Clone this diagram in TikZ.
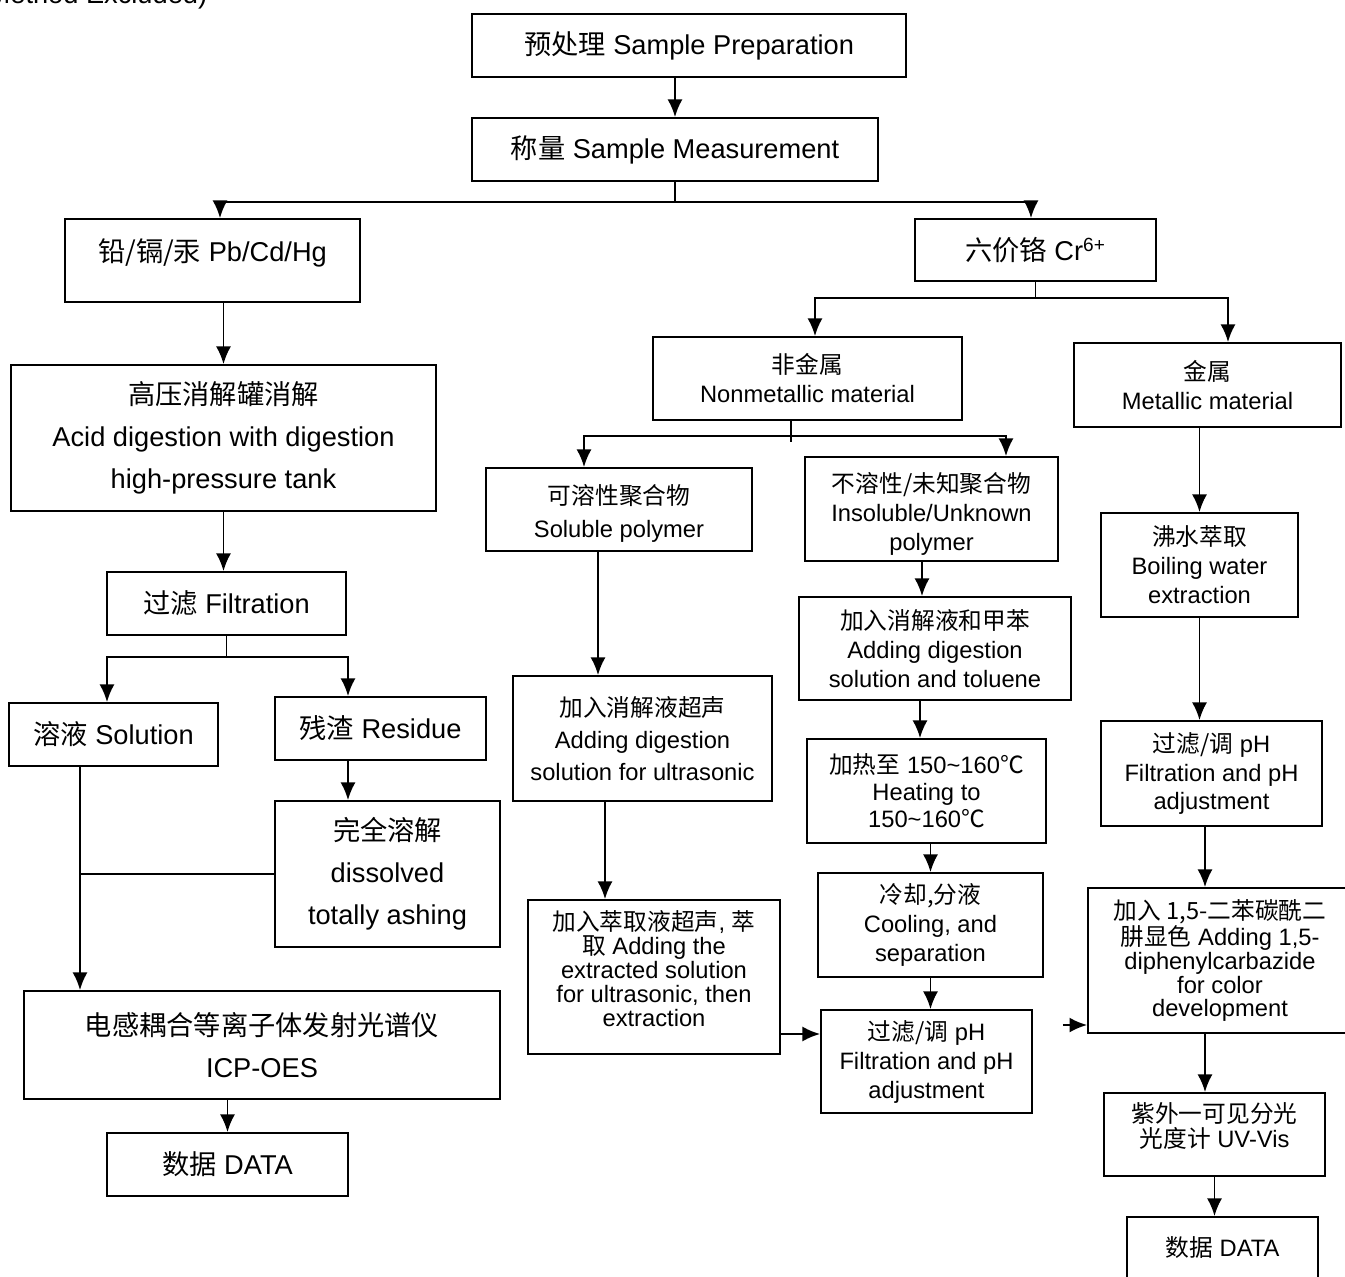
\documentclass[tikz,border=0pt]{standalone}
\usepackage{fontspec}
\setmainfont{Liberation Sans}
\newfontfamily\zhfont{Noto Sans CJK SC}
\newcommand{\zh}[1]{{\zhfont #1}}
\usetikzlibrary{arrows.meta}

\begin{document}
\begin{tikzpicture}[x=0.02cm, y=-0.02cm, >={Latex[length=10pt,width=8.5pt]}, line width=1.1pt,
	box/.style={draw, line width=1.1pt, align=center, inner sep=0pt},
	bigbox/.style={box, font=\fontsize{15.5}{23.8}\selectfont},
	smallbox/.style={box, font=\fontsize{13.5}{16.5}\selectfont}]
	\useasboundingbox (0,0) rectangle (1345,1277);
	\node [anchor=base east, font=\fontsize{15.5}{18}\selectfont] (hdr) at (214,4) {Method Excluded)};
	% left column: Pb/Cd/Hg
	\node [bigbox, minimum width=8.68cm, minimum height=1.26cm] (prep) at (689,45.5) {\zh{预处理} Sample Preparation};
	\node [bigbox, minimum width=8.12cm, minimum height=1.26cm] (meas) at (675,149.5) {\zh{称量} Sample Measurement};
	\node [bigbox, minimum width=5.9cm, minimum height=1.66cm, text depth=12pt] (pbcd) at (212.5,260.5) {\zh{铅/镉/汞} Pb/Cd/Hg};
	\node [bigbox, minimum width=8.5cm, minimum height=2.92cm] (acid) at (223.5,438) {\zh{高压消解罐消解}\\ Acid digestion with digestion\\ high-pressure tank};
	\node [bigbox, minimum width=4.78cm, minimum height=1.26cm] (filt) at (226.5,603.5) {\zh{过滤} Filtration};
	\node [bigbox, minimum width=4.18cm, minimum height=1.26cm] (sol) at (113.5,734.5) {\zh{溶液} Solution};
	\node [bigbox, minimum width=4.22cm, minimum height=1.26cm] (res) at (380.5,728.5) {\zh{残渣} Residue};
	\node [bigbox, minimum width=4.5cm, minimum height=2.92cm] (diss) at (387.5,874) {\zh{完全溶解}\\ dissolved\\ totally ashing};
	\node [bigbox, minimum width=9.52cm, minimum height=2.16cm] (icp) at (262,1045) {\zh{电感耦合等离子体发射光谱仪}\\ ICP-OES};
	\node [bigbox, minimum width=4.82cm, minimum height=1.26cm] (data1) at (227.5,1164.5) {\zh{数据} DATA};
	% right part: Cr(VI)
	\node [bigbox, minimum width=4.82cm, minimum height=1.24cm] (cr) at (1035.5,250) {\zh{六价铬} Cr\textsuperscript{6+}};
	\node [smallbox, minimum width=6.18cm, minimum height=1.66cm] (nonmet) at (807.5,378.5) {\zh{非金属}\\ Nonmetallic material};
	\node [smallbox, minimum width=5.34cm, minimum height=1.68cm] (met) at (1207.5,385) {\zh{金属}\\ Metallic material};
	\node [smallbox, minimum width=5.32cm, minimum height=1.66cm, font=\fontsize{13.5}{18.7}\selectfont, text height=35pt] (solpoly) at (619,509.5) {\zh{可溶性聚合物}\\ Soluble polymer};
	\node [smallbox, minimum width=5.06cm, minimum height=2.08cm, text height=50pt] (insol) at (931.5,509) {\zh{不溶性/未知聚合物}\\ Insoluble/Unknown\\ polymer};
	\node [smallbox, minimum width=5.18cm, minimum height=2.5cm, font=\fontsize{13.5}{18}\selectfont] (ultra) at (642.5,738.5) {\zh{加入消解液超声}\\ Adding digestion\\ solution for ultrasonic};
	\node [smallbox, minimum width=5.04cm, minimum height=3.08cm, font=\fontsize{13.5}{13.6}\selectfont, text depth=10pt] (extr) at (654,977) {\zh{加入萃取液超声}, \zh{萃}\\ \zh{取} Adding the\\ extracted solution\\ for ultrasonic, then\\ extraction};
	\node [smallbox, minimum width=5.44cm, minimum height=2.06cm] (add) at (935,648.5) {\zh{加入消解液和甲苯}\\ Adding digestion\\ solution and toluene};
	\node [smallbox, minimum width=4.78cm, minimum height=2.08cm, font=\fontsize{13.5}{15.3}\selectfont] (heat) at (926.5,791) {\zh{加热至} 150\textasciitilde160\zh{℃}\\ Heating to\\ 150\textasciitilde160\zh{℃}};
	\node [smallbox, minimum width=4.5cm, minimum height=2.08cm] (cool) at (930.5,925) {\zh{冷却,分液}\\ Cooling, and\\ separation};
	\node [smallbox, minimum width=4.22cm, minimum height=2.06cm] (filt2) at (926.5,1061.5) {\zh{过滤/调} pH\\ Filtration and pH\\ adjustment};
	\node [smallbox, minimum width=3.94cm, minimum height=2.08cm] (boil) at (1199.5,565) {\zh{沸水萃取}\\ Boiling water\\ extraction};
	\node [smallbox, minimum width=4.42cm, minimum height=2.1cm] (filt3) at (1211.5,773.5) {\zh{过滤/调} pH\\ Filtration and pH\\ adjustment};
	\node [smallbox, minimum width=5.28cm, minimum height=2.9cm, font=\fontsize{13.5}{13.6}\selectfont] (color) at (1220,960.5) {\zh{加入 1,5-二苯碳酰二}\\ \zh{肼显色} Adding 1,5-\\ diphenylcarbazide\\ for color\\ development};
	\node [smallbox, minimum width=4.42cm, minimum height=1.66cm, font=\fontsize{13.5}{14.2}\selectfont, text depth=11pt] (uv) at (1214.5,1134.5) {\zh{紫外一可见分光}\\ \zh{光度计} UV-Vis};
	\node [smallbox, minimum width=3.82cm, minimum height=1.6cm, text depth=12pt] (data2) at (1222.5,1257) {\zh{数据} DATA};
	% arrows, left
	\draw [->] (meas.north |- prep.south) -- (meas.north);
	\draw (meas.south) -- ++(0,20) coordinate (j1);
	\draw [->] (j1) -| ([xshift=0.15cm]pbcd.north);
	\draw [->] (j1) -| ([xshift=-0.09cm]cr.north);
	\draw [->] (acid.north |- pbcd.south) -- (acid.north);
	\draw [->] (acid.south) -- (acid.south |- filt.north);
	\draw (filt.south) -- ++(0,21) coordinate (j3);
	\draw [->] (j3) -| ([xshift=-0.13cm]sol.north);
	\draw [->] (j3) -| ([xshift=-0.65cm]res.north);
	\draw [->] ([xshift=-0.65cm]res.south) -- ([xshift=-0.65cm]res.south |- diss.north);
	\coordinate (s1) at ([xshift=-0.67cm]sol.south);
	\draw [->] (s1) -- (s1 |- icp.north);
	\draw (diss.west) -- (diss.west -| s1);
	\draw [->] (data1.north |- icp.south) -- (data1.north);
	% arrows, right
	\draw (cr.south) -- ++(0,16) coordinate (j2);
	\draw [->] (j2) -| ([xshift=0.15cm]nonmet.north);
	\draw [->] (j2) -| ([xshift=0.41cm]met.north);
	\draw ([xshift=-0.33cm]nonmet.south) -- ++(0,21) coordinate (j4);
	\draw [->] ([yshift=0.12cm]j4) -| ([xshift=-0.7cm]solpoly.north);
	\draw [->] ([yshift=0.12cm]j4) -| ([xshift=1.49cm]insol.north);
	\coordinate (s2) at ([xshift=-0.42cm]solpoly.south);
	\draw [->] (s2) -- (s2 |- ultra.north);
	\coordinate (s3) at ([xshift=-0.75cm]ultra.south);
	\draw [->] (s3) -- (s3 |- extr.north);
	\coordinate (s4) at ([yshift=-1.14cm]extr.east);
	\draw [->] (s4) -- (s4 -| filt2.west);
	\coordinate (s5) at ([xshift=-0.19cm]insol.south);
	\draw [->] (s5) -- (s5 |- add.north);
	\coordinate (s6) at ([xshift=-0.3cm]add.south);
	\draw [->] (s6) -- (s6 |- heat.north);
	\draw [->] (cool.north |- heat.south) -- (cool.north);
	\draw [->] (cool.south) -- (cool.south |- filt2.north);
	\coordinate (s7) at ([yshift=0.73cm]filt2.east);
	\draw [->, shorten <=0.6cm] (s7) -- (s7 -| color.west);
	\draw [->] (boil.north |- met.south) -- (boil.north);
	\draw [->] (boil.south) -- (boil.south |- filt3.north);
	\draw [->] ([xshift=-0.13cm]filt3.south) -- ([xshift=-0.13cm]filt3.south |- color.north);
	\coordinate (s8) at ([xshift=-0.19cm]uv.north);
	\draw [->] (s8 |- color.south) -- (s8);
	\draw [->] (uv.south) -- (uv.south |- data2.north);
\end{tikzpicture}
\end{document}
